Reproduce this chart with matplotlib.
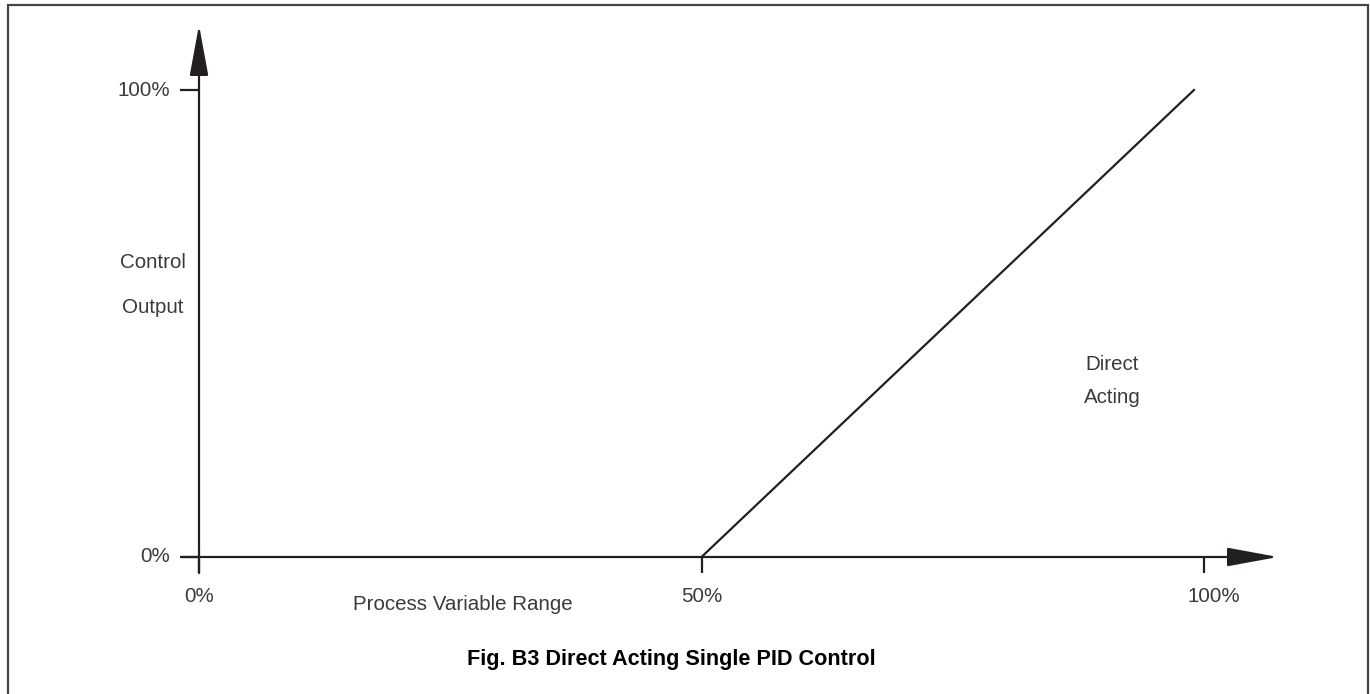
import matplotlib
matplotlib.use("Agg")
import matplotlib.pyplot as plt
from matplotlib.patches import Rectangle

plt.rcParams['font.family'] = ['Liberation Sans', 'DejaVu Sans']

# chart data
x_ticks = [0, 50, 100]
x_tick_labels = ["0%", "50%", "100%"]
y_ticks = [0, 100]
y_tick_labels = ["0%", "100%"]
line_x = [50, 99]
line_y = [0, 100]

title = "Fig. B3 Direct Acting Single PID Control"
x_label = "Process Variable Range"
y_label = "Control\nOutput"
curve_label = "Direct\nActing"

W, H, DPI = 1370, 694, 100
fig = plt.figure(figsize=(W / DPI, H / DPI), dpi=DPI)

# map data to pixels: x 0 -> 199px, 100 -> 1204px ; y 0 -> 557px, 100 -> 90px
sx = (1204 - 199) / 100.0
sy = (557 - 90) / 100.0
ax = fig.add_axes([0, 0, 1, 1])
ax.set_xlim(-199 / sx, (W - 199) / sx)
ax.set_ylim((557 - H) / sy, 557 / sy)
ax.set_axis_off()

ink = "#231f20"
txt = "#3a3a3a"
fs = 14.8

# frame
fig.patches.append(Rectangle((8 / W, -0.05), (1368 - 8) / W, 1 + 0.05 - 5 / H,
                             transform=fig.transFigure, fill=False,
                             edgecolor="#444444", lw=1.6))

# axes with arrows
x_tip = (1278 - 199) / sx
y_tip = (557 - 25) / sy
arrow = dict(arrowstyle="-|>,head_length=31.5,head_width=5.8", mutation_scale=1,
             color=ink, lw=1.6, shrinkA=0, shrinkB=0)
ax.annotate("", xy=(0, y_tip), xytext=(0, -16 / sy), arrowprops=arrow)
ax.annotate("", xy=(x_tip, 0), xytext=(-17 / sx, 0), arrowprops=arrow)

# ticks
for xt, lab in zip(x_ticks, x_tick_labels):
    ax.plot([xt, xt], [0, -16 / sy], color=ink, lw=1.6, solid_capstyle="butt")
    dx = 10 / sx if xt == 100 else 0
    ax.text(xt + dx, -39 / sy, lab, ha="center", va="center", fontsize=fs, color=txt)
for yt, lab in zip(y_ticks, y_tick_labels):
    ax.plot([-19 / sx, 0], [yt, yt], color=ink, lw=1.6, solid_capstyle="butt")
    ax.text(-29 / sx, yt, lab, ha="right", va="center", fontsize=fs, color=txt)

# response line
ax.plot(line_x, line_y, color=ink, lw=1.6)

# labels
ax.text(-46 / sx, (557 - 285) / sy, y_label, ha="center", va="center",
        fontsize=fs, color=txt, linespacing=2.7)
ax.text((1112 - 199) / sx, (557 - 381) / sy, curve_label, ha="center", va="center",
        fontsize=fs, color=txt, linespacing=1.95)
ax.text((463 - 199) / sx, (557 - 605) / sy, x_label, ha="center", va="center",
        fontsize=fs, color=txt)

fig.text(671 / W, 1 - 660 / H, title, ha="center", va="center",
         fontsize=15.6, fontweight="bold", color="black")

fig.savefig("out.png", dpi=DPI)
